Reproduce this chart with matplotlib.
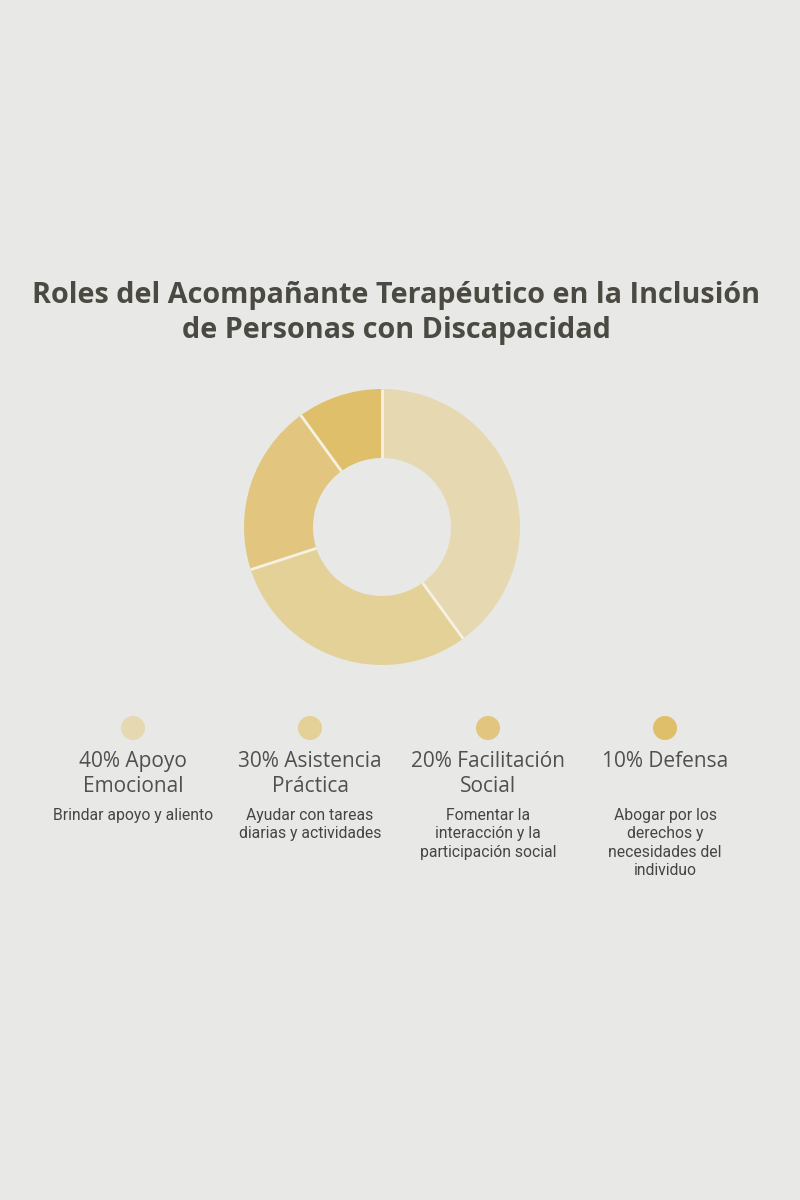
import numpy as np
import matplotlib.pyplot as plt

# data
roles = ['Apoyo\nEmocional', 'Asistencia\nPráctica', 'Facilitación\nSocial', 'Defensa']
shares = [40, 30, 20, 10]
descriptions = [
    'Brindar apoyo y aliento',
    'Ayudar con tareas\ndiarias y actividades',
    'Fomentar la\ninteracción y la\nparticipación social',
    'Abogar por los\nderechos y\nnecesidades del\nindividuo',
]
title = 'Roles del Acompañante Terapéutico en la Inclusión\nde Personas con Discapacidad'

# style
BG = '#e8e8e6'
SLICE_COLORS = ['#e6d9b1', '#e3d198', '#e2c67f', '#dfbf69']
SEP_COLOR = '#f6f1e2'
TITLE_COLOR = '#4a4a42'
HEAD_COLOR = '#505050'
DESC_COLOR = '#454545'

W, H = 800, 1200
fig = plt.figure(figsize=(W / 100, H / 100), dpi=100, facecolor=BG)

# overlay axes in pixel coordinates (y from top)
over = fig.add_axes([0, 0, 1, 1])
over.set_xlim(0, W)
over.set_ylim(H, 0)
over.axis('off')

over.text(W / 2 - 4, 313, title, ha='center', va='center', fontsize=20.7,
          fontfamily='Open Sans', fontweight='bold', color=TITLE_COLOR,
          linespacing=1.28)

# donut
cx, cy, r = 382, 527, 138
ax = fig.add_axes([(cx - r) / W, (H - cy - r) / H, 2 * r / W, 2 * r / H])
wedges, _ = ax.pie(shares, colors=SLICE_COLORS, startangle=90, counterclock=False,
                   radius=1, wedgeprops=dict(width=0.5, edgecolor='none'))
# separators between slices only (no outer outline)
for w in wedges:
    a = np.deg2rad(w.theta1)
    ax.plot([0.5 * np.cos(a), np.cos(a)], [0.5 * np.sin(a), np.sin(a)],
            color=SEP_COLOR, lw=2, solid_capstyle='butt')
ax.set_xlim(-1, 1)
ax.set_ylim(-1, 1)
ax.set_aspect('equal')
ax.axis('off')

# legend
col_x = [133, 310, 488, 665]
for x, share, role, desc, c in zip(col_x, shares, roles, descriptions, SLICE_COLORS):
    over.scatter([x], [728], s=300, color=c, edgecolor='none', zorder=3)
    over.text(x, 751, f'{share}% {role}', ha='center', va='top', fontsize=15,
              fontfamily='Open Sans', color=HEAD_COLOR, linespacing=1.28)
    over.text(x, 808, desc, ha='center', va='top', fontsize=11.3,
              fontfamily='Roboto', color=DESC_COLOR, linespacing=1.29)

fig.savefig('out.png', dpi=100, facecolor=BG)
